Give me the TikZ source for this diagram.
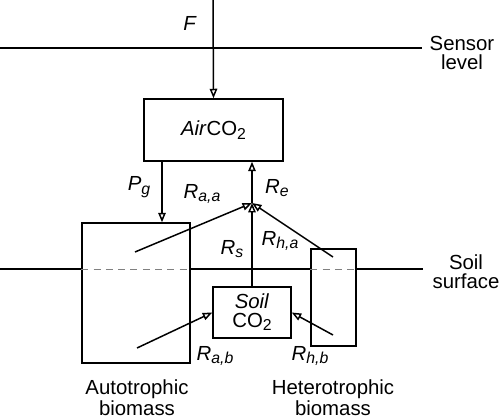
\documentclass[tikz,border=0pt]{standalone}
\usepackage{fontspec}
\setmainfont{Liberation Sans}
\usetikzlibrary{arrows.meta,positioning}
\newcommand{\rate}[2]{\textit{#1}\raisebox{-2pt}{\fontsize{9}{9}\selectfont\textit{#2}}}

\begin{document}
\begin{tikzpicture}[x=0.02cm,y=-0.02cm,line width=0.85pt,
		font=\fontsize{11.6}{10.6}\selectfont,
		flow/.style={-{Triangle[open,length=0.19cm,width=0.15cm]}},
		pool/.style={draw, fill=white, inner sep=0pt, align=center},
		level/.style={dashed, gray, line width=0.45pt, dash pattern=on 4pt off 3pt},
		caption/.style={align=center}]
		\useasboundingbox (0,0) rectangle (500,418);

		% levels
		\draw (0,48) -- (422,48);
		\node[caption] at (462,53) {Sensor\\level};
		\draw (0,269) -- (423,269);
		\node[caption] at (466,272) {Soil\\surface};

		% pools
		\node[pool, minimum width=2.78cm, minimum height=1.24cm] (air) at (213.5,130) {\textit{Air}CO\raisebox{-2pt}{\fontsize{9}{9}\selectfont 2}};
		\node[pool, minimum width=2.16cm, minimum height=2.8cm] (auto) at (136,293) {};
		\node[pool, minimum width=0.9cm, minimum height=1.94cm] (hetero) at (333.5,297.5) {};
		\node[pool, minimum width=1.56cm, minimum height=1.02cm] (soil) at (252,312.5) {\textit{Soil}\\CO\raisebox{-2pt}{\fontsize{9}{9}\selectfont 2}};
		\draw[level] (auto.west |- 0,269) -- (auto.east |- 0,269);
		\draw[level] (hetero.west |- 0,269) -- (hetero.east |- 0,269);

		\node[caption] at (137,398) {Autotrophic\\biomass};
		\node[caption] at (333,398) {Heterotrophic\\biomass};

		% fluxes
		\coordinate (top) at (213,0);
		\coordinate (meet) at (252,203);
		\coordinate (pg) at (162,0);
		\coordinate (aa) at (135,252);
		\coordinate (ab) at (137,348);
		\coordinate (ha) at (333,257);
		\coordinate (hb) at (333,335);

		\draw[flow] (top) -- (air.north);
		\draw[flow] (pg |- air.south) -- (pg |- auto.north);
		\draw[flow] (meet) -- (meet |- air.south);
		\draw[flow] (aa) -- (meet);
		\draw[flow] (soil.north) -- (meet);
		\draw[flow] (ha) -- (meet);
		\draw[flow] (ab) -- (soil.west);
		\draw[flow] (hb) -- (soil.east);

		\node at (190,23) {\textit{F}};
		\node at (139,187) {\rate{P}{g}};
		\node at (202,194) {\rate{R}{a,a}};
		\node at (277,188) {\rate{R}{e}};
		\node at (232,249) {\rate{R}{s}};
		\node at (280,241) {\rate{R}{h,a}};
		\node at (215,356) {\rate{R}{a,b}};
		\node at (310,356) {\rate{R}{h,b}};
\end{tikzpicture}
\end{document}
